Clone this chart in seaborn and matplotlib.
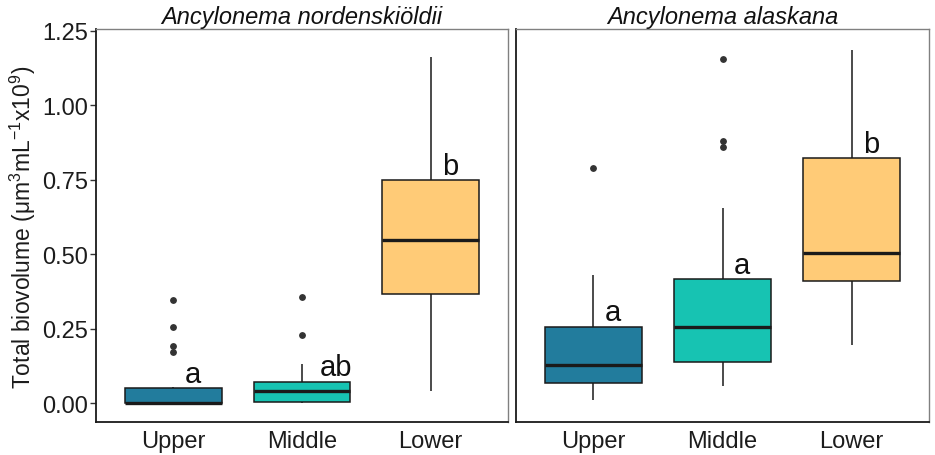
import numpy as np
import pandas as pd
import matplotlib
matplotlib.use("Agg")
import matplotlib.pyplot as plt
import seaborn as sns

# ---------------- data ----------------
panels = ["Ancylonema nordenskiöldii", "Ancylonema alaskana"]
zones = ["Upper", "Middle", "Lower"]
zone_colors = ["#227C9D", "#17C3B2", "#FFCB77"]

nord_upper = [0.0, 0.0, 0.0, 0.0, 0.0, 0.0, 0.001, 0.001, 0.002, 0.002, 0.002,
              0.01, 0.02, 0.03, 0.04, 0.051, 0.055, 0.173, 0.193, 0.255, 0.348]
nord_middle = [0.0, 0.002, 0.003, 0.004, 0.005, 0.012, 0.02, 0.03, 0.040, 0.048,
               0.055, 0.065, 0.0725, 0.10, 0.132, 0.230, 0.358]
nord_lower = [0.040, 0.25, 0.368, 0.45, 0.549, 0.65, 0.750, 0.95, 1.161]

alas_upper = [0.011, 0.04, 0.068, 0.10, 0.128, 0.19, 0.257, 0.430, 0.790]
alas_middle = [0.057, 0.08, 0.10, 0.12, 0.138, 0.17, 0.20, 0.23, 0.257, 0.29,
               0.33, 0.37, 0.417, 0.654, 0.861, 0.881, 1.155]
alas_lower = [0.196, 0.30, 0.410, 0.46, 0.503, 0.65, 0.822, 1.0, 1.187]

letters_nord = ["a", "ab", "b"]
letters_alas = ["a", "a", "b"]

y_ticks = [0.00, 0.25, 0.50, 0.75, 1.00, 1.25]

# ---------------- build table ----------------
rows = []
for panel, groups in zip(panels, [[nord_upper, nord_middle, nord_lower],
                                  [alas_upper, alas_middle, alas_lower]]):
    for z, vals in zip(zones, groups):
        for v in vals:
            rows.append({"panel": panel, "zone": z, "value": v})
df = pd.DataFrame(rows)
letters = {panels[0]: letters_nord, panels[1]: letters_alas}

# ---------------- style ----------------
sns.set_theme(style="white")
plt.rcParams["font.family"] = ["Liberation Sans", "DejaVu Sans"]
plt.rcParams["mathtext.fontset"] = "custom"
plt.rcParams["mathtext.rm"] = "Liberation Sans"
plt.rcParams["mathtext.it"] = "Liberation Sans:italic"

W, H = 935, 456
fig = plt.figure(figsize=(W / 100, H / 100), dpi=100)
top_px, bot_px = 30, 422.7
ax_boxes = [(96, 508), (516, 929)]
axes = []
for (l, r) in ax_boxes:
    ax = fig.add_axes([l / W, (H - bot_px) / H, (r - l) / W, (bot_px - top_px) / H])
    axes.append(ax)

text_col = "#1c1c1c"
edge_col = "#1a1a1a"
for i, (ax, panel) in enumerate(zip(axes, panels)):
    sub = df[df["panel"] == panel]
    sns.boxplot(data=sub, x="zone", y="value", hue="zone", order=zones,
                hue_order=zones, palette=zone_colors, saturation=1, width=0.75,
                linewidth=1.1, linecolor=edge_col, legend=False, ax=ax,
                showcaps=False,
                medianprops=dict(linewidth=2.4, color=edge_col),
                flierprops=dict(marker="o", markerfacecolor="#333333",
                                markeredgecolor="#333333", markersize=3.9))
    ax.set_xlim(-0.6, 2.6)
    ax.set_ylim(-0.062, 1.256)
    ax.set_yticks(y_ticks)
    ax.set_xlabel("")
    ax.set_ylabel("")
    ax.set_title(panel, fontsize=17, style="italic", color="#111111", pad=4)
    for side in ["top", "right"]:
        ax.spines[side].set_color("#808080")
        ax.spines[side].set_linewidth(1.0)
    for side in ["left", "bottom"]:
        ax.spines[side].set_color("#1a1a1a")
        ax.spines[side].set_linewidth(1.3)
    ax.tick_params(axis="x", length=4, width=1, color="#333333",
                   labelsize=17, labelcolor=text_col, pad=2)
    if i == 0:
        ax.tick_params(axis="y", length=4, width=1, color="#333333",
                       labelsize=17, labelcolor=text_col, pad=2, left=True)
        ax.set_yticklabels([f"{t:.2f}" for t in y_ticks])
    else:
        ax.tick_params(axis="y", left=False, labelleft=False)

fig.text(23 / W, 1 - 227 / H,
         r"Total biovolume (μm$\mathregular{^{3}}$mL$\mathregular{^{-1}}$x10$\mathregular{^{9}}$)",
         rotation=90, ha="center", va="center", fontsize=16.5, color=text_col)

# letters placed just above each box's upper quartile
fig.canvas.draw()
texts = []
for ax, panel in zip(axes, panels):
    sub = df[df["panel"] == panel]
    for j, z in enumerate(zones):
        q3 = np.percentile(sub[sub["zone"] == z]["value"], 75)
        t = ax.text(j + 0.04, q3 + 0.021, letters[panel][j], ha="left",
                    va="baseline", fontsize=21, color="#111111")
        texts.append((ax, t, j))
fig.canvas.draw()
renderer = fig.canvas.get_renderer()
for ax, t, j in texts:
    wpx = t.get_window_extent(renderer).width
    bb = ax.get_window_extent(renderer)
    px_per_unit = bb.width / 3.2
    x, y = t.get_position()
    t.set_x(x + 0.376 * wpx / px_per_unit)

fig.savefig("out.png", dpi=100)
